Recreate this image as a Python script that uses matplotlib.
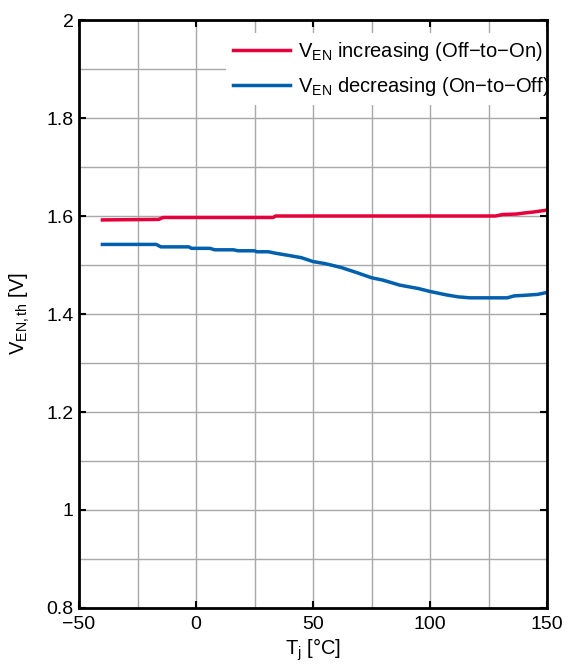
import matplotlib
matplotlib.use("Agg")
import matplotlib.pyplot as plt
import numpy as np

plt.rcParams['font.family'] = ['Liberation Sans', 'DejaVu Sans']
plt.rcParams['mathtext.default'] = 'regular'

# temperature [°C] / threshold [V]
t_inc = [-40, -16, -14, 33, 34, 128, 131, 137, 140, 144, 150]
v_inc = [1.592, 1.593, 1.597, 1.597, 1.600, 1.600, 1.603, 1.604, 1.606, 1.608, 1.612]

t_dec = [-40, -17, -15, -3, -2, 6, 8, 16, 18, 25, 26, 31, 34, 39, 45, 50, 55, 62,
         69, 75, 80, 87, 95, 100, 107, 112, 117, 133, 136, 140, 146, 150]
v_dec = [1.542, 1.542, 1.537, 1.537, 1.534, 1.534, 1.531, 1.531, 1.529, 1.529, 1.527,
         1.527, 1.524, 1.520, 1.515, 1.507, 1.503, 1.495, 1.484, 1.474, 1.469, 1.459,
         1.452, 1.446, 1.439, 1.435, 1.433, 1.433, 1.437, 1.438, 1.440, 1.444]

lbl_inc = r'V$_{EN}$ increasing (Off$-$to$-$On)'
lbl_dec = r'V$_{EN}$ decreasing (On$-$to$-$Off)'

fig = plt.figure(figsize=(5.68, 6.66), dpi=100)
ax = fig.add_axes([79 / 568, 1 - 608 / 666, (547 - 79) / 568, (608 - 20) / 666])

ax.plot(t_inc, v_inc, color='#e4003a', lw=2.5, label=lbl_inc)
ax.plot(t_dec, v_dec, color='#0060ad', lw=2.5, label=lbl_dec)

ax.set_xlim(-50, 150)
ax.set_ylim(0.8, 2)
ax.set_xticks(np.arange(-50, 151, 50))
ax.set_xticks(np.arange(-50, 151, 25), minor=True)
ax.set_yticks(np.arange(0.8, 2.01, 0.2))
ax.set_yticks(np.arange(0.8, 2.01, 0.1), minor=True)
ax.set_yticklabels(['0.8', '1', '1.2', '1.4', '1.6', '1.8', '2'])
ax.grid(True, which='both', color='#a8a8a8', lw=1)
ax.tick_params(which='major', direction='in', length=5, width=1.5, top=True, right=True,
               labelsize=14)
ax.tick_params(axis='x', which='major', pad=6)
ax.tick_params(axis='y', which='major', pad=4)
ax.tick_params(which='minor', length=0)
for s in ax.spines.values():
    s.set_linewidth(2)

ax.set_xlabel(r'T$_j$ [°C]', fontsize=14.5, labelpad=2)
ax.set_ylabel(r'V$_{EN,th}$ [V]', fontsize=14.5, labelpad=10)

leg = ax.legend(loc='upper right', bbox_to_anchor=(1 + 9 / 468, 1 - 13 / 588), fontsize=14.5,
                frameon=True, fancybox=False, framealpha=1, edgecolor='none',
                borderaxespad=0, handlelength=2.85, handletextpad=0.35,
                labelspacing=0.6, borderpad=0.35)
leg.set_zorder(2.2)

fig.savefig('out.png', dpi=100)
